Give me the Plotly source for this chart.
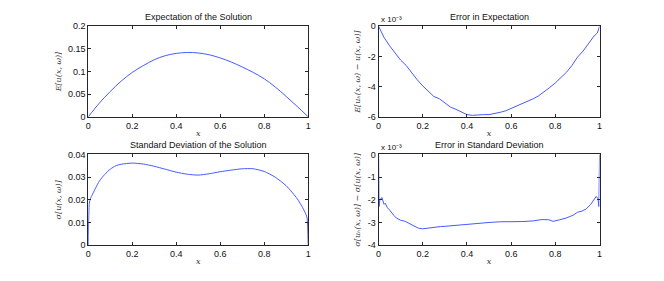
import plotly.graph_objects as go

# ---------------- data ----------------
x_mean = [0, 0.05, 0.1, 0.15, 0.2, 0.25, 0.3, 0.35, 0.4, 0.45, 0.5, 0.55, 0.6, 0.65, 0.7, 0.75, 0.8, 0.85, 0.9, 0.95, 1.0]
mean_u = [0, 0.030, 0.056, 0.079, 0.098, 0.113, 0.126, 0.135, 0.140, 0.142, 0.141, 0.137, 0.130, 0.121, 0.110, 0.098, 0.084, 0.066, 0.045, 0.023, 0]

x_err_mean = [0, 0.01, 0.025, 0.05, 0.075, 0.1, 0.125, 0.15, 0.175, 0.2, 0.225, 0.25, 0.275, 0.3, 0.325, 0.35,
              0.375, 0.4, 0.425, 0.45, 0.475, 0.5, 0.525, 0.55, 0.575, 0.6, 0.625, 0.65, 0.675, 0.7, 0.725, 0.75,
              0.775, 0.8, 0.825, 0.85, 0.875, 0.9, 0.925, 0.95, 0.975, 0.99, 1.0]
# in units of 1e-3
err_mean_e3 = [0, -0.35, -0.75, -1.3, -1.75, -2.25, -2.6, -3.1, -3.55, -3.95, -4.3, -4.65, -4.8, -5.1, -5.35, -5.5,
               -5.7, -5.85, -5.9, -5.85, -5.85, -5.85, -5.8, -5.7, -5.6, -5.45, -5.3, -5.15, -5.0, -4.8, -4.6, -4.35,
               -4.05, -3.75, -3.4, -3.05, -2.6, -2.05, -1.65, -1.15, -0.65, -0.45, 0]

x_std = [0, 0.005, 0.01, 0.02, 0.035, 0.05, 0.075, 0.1, 0.125, 0.15, 0.2, 0.25, 0.3, 0.35, 0.4, 0.45, 0.5, 0.55,
         0.6, 0.65, 0.7, 0.75, 0.8, 0.85, 0.9, 0.95, 0.975, 0.99, 0.995, 1.0]
std_u = [0, 0.0185, 0.0205, 0.0225, 0.0255, 0.0282, 0.0312, 0.0335, 0.0350, 0.0357, 0.0362, 0.0358, 0.0348, 0.0335,
         0.0322, 0.0313, 0.0309, 0.0315, 0.0324, 0.0331, 0.0337, 0.0337, 0.0325, 0.0300, 0.0262, 0.0205, 0.0165,
         0.0135, 0.0120, 0]

x_err_std = [0, 0.002, 0.006, 0.01, 0.015, 0.02, 0.025, 0.03, 0.04, 0.05, 0.06, 0.07, 0.08, 0.09, 0.1, 0.12, 0.14,
             0.16, 0.18, 0.2, 0.22, 0.25, 0.28, 0.3, 0.35, 0.4, 0.45, 0.5, 0.55, 0.6, 0.65, 0.7, 0.74, 0.77, 0.79,
             0.82, 0.85, 0.88, 0.9, 0.92, 0.94, 0.96, 0.975, 0.985, 0.993, 0.997, 1.0]
# in units of 1e-3
err_std_e3 = [0, -2.3, -2.0, -1.95, -1.9, -2.05, -2.2, -2.15, -2.35, -2.45, -2.6, -2.7, -2.8, -2.85, -2.9, -2.95,
              -3.05, -3.15, -3.25, -3.28, -3.25, -3.2, -3.18, -3.17, -3.12, -3.08, -3.05, -3.0, -2.97, -2.97, -2.96,
              -2.93, -2.87, -2.88, -2.95, -2.88, -2.8, -2.68, -2.55, -2.5, -2.4, -2.2, -2.0, -1.85, -1.95, -2.3, 0]

x_ticks = [0, 0.2, 0.4, 0.6, 0.8, 1]
x_tick_text = ["0", "0.2", "0.4", "0.6", "0.8", "1"]
y1_ticks = [0, 0.05, 0.1, 0.15, 0.2]
y1_text = ["0", "0.05", "0.1", "0.15", "0.2"]
y2_ticks = [-6, -4, -2, 0]
y3_ticks = [0, 0.01, 0.02, 0.03, 0.04]
y3_text = ["0", "0.01", "0.02", "0.03", "0.04"]
y4_ticks = [-4, -3, -2, -1, 0]

titles = ["Expectation of the Solution", "Error in Expectation",
          "Standard Deviation of the Solution", "Error in Standard Deviation"]
y_titles = ["E[u(x, ω)]", "E[uₕ(x, ω) − u(x, ω)]", "σ[u(x, ω)]", "σ[uₕ(x, ω)] − σ[u(x, ω)]"]
exp_label = "x 10⁻³"

# ---------------- figure ----------------
W, H = 664, 281
LINE = "rgb(70,90,255)"
AX = "#262626"
FONT = "Liberation Sans, Arial, sans-serif"
SERIF = "DejaVu Serif, Liberation Serif, serif"

fig = go.Figure()
fig.add_trace(go.Scatter(x=x_mean, y=mean_u, mode="lines", line=dict(color=LINE, width=1, shape="spline"),
                         xaxis="x", yaxis="y"))
fig.add_trace(go.Scatter(x=x_err_mean, y=err_mean_e3, mode="lines", line=dict(color=LINE, width=1),
                         xaxis="x2", yaxis="y2"))
fig.add_trace(go.Scatter(x=x_std, y=std_u, mode="lines", line=dict(color=LINE, width=1, shape="spline", smoothing=0.6),
                         xaxis="x3", yaxis="y3"))
fig.add_trace(go.Scatter(x=x_err_std, y=err_std_e3, mode="lines", line=dict(color=LINE, width=1),
                         xaxis="x4", yaxis="y4"))

xl = [86 / W, 308 / W]
xr = [379 / W, 602 / W]
yt = [1 - 116 / H, 1 - 22 / H]
yb = [1 - 249 / H, 1 - 155 / H]


def xax(domain, anchor):
    return dict(domain=domain, anchor=anchor, range=[0, 1], tickvals=x_ticks, ticktext=x_tick_text,
                ticks="inside", ticklen=3, tickcolor=AX, showline=True, linecolor=AX, linewidth=1,
                mirror="ticks", showgrid=False, zeroline=False,
                tickfont=dict(family=FONT, size=9, color="#111"),
                title=dict(text="x", font=dict(family=SERIF, size=8, color="#333", style="italic"), standoff=0))


def yax(domain, anchor, rng, vals, text, title):
    return dict(domain=domain, anchor=anchor, range=rng, tickvals=vals, ticktext=text,
                ticks="inside", ticklen=3, tickcolor=AX, showline=True, linecolor=AX, linewidth=1,
                mirror="ticks", showgrid=False, zeroline=False,
                tickfont=dict(family=FONT, size=9, color="#111"),
                title=dict(text=title, font=dict(family=SERIF, size=8, color="#333", style="italic"), standoff=5))


fig.update_layout(
    width=W, height=H, margin=dict(l=0, r=0, t=0, b=0),
    paper_bgcolor="white", plot_bgcolor="white", showlegend=False,
    xaxis=xax(xl, "y"),
    yaxis=yax(yt, "x", [0, 0.2], y1_ticks, y1_text, y_titles[0]),
    xaxis2=xax(xr, "y2"),
    yaxis2=yax(yt, "x2", [-6, 0], y2_ticks, [str(v) for v in y2_ticks], y_titles[1]),
    xaxis3=xax(xl, "y3"),
    yaxis3=yax(yb, "x3", [0, 0.04], y3_ticks, y3_text, y_titles[2]),
    xaxis4=xax(xr, "y4"),
    yaxis4=yax(yb, "x4", [-4, 0], y4_ticks, [str(v) for v in y4_ticks], y_titles[3]),
)

# titles
for t, xd, yd in [(titles[0], xl, yt), (titles[1], xr, yt), (titles[2], xl, yb), (titles[3], xr, yb)]:
    fig.add_annotation(text=t, x=(xd[0] + xd[1]) / 2, y=yd[1], xref="paper", yref="paper",
                       xanchor="center", yanchor="bottom", yshift=2, showarrow=False,
                       font=dict(family=FONT, size=9, color="#111"))

# exponent labels
for yd in (yt, yb):
    fig.add_annotation(text=exp_label, x=xr[0], y=yd[1], xref="paper", yref="paper",
                       xanchor="left", yanchor="bottom", yshift=0, showarrow=False,
                       font=dict(family=FONT, size=8, color="#111"))

fig.write_html("out.html", config={"displayModeBar": False},
               post_script="document.body.style.margin='0';document.body.style.padding='0';")
